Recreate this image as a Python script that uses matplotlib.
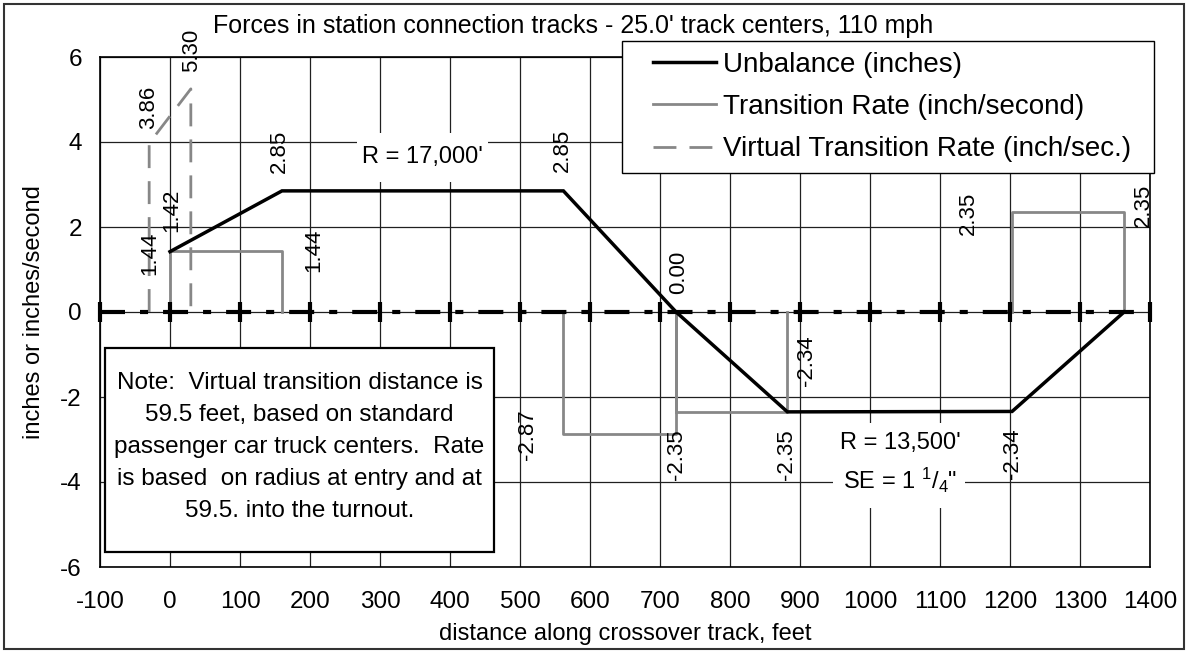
import matplotlib
matplotlib.use('Agg')
import matplotlib.pyplot as plt
from matplotlib.patches import Rectangle
from matplotlib.lines import Line2D
from matplotlib.legend_handler import HandlerLine2D

plt.rcParams['font.family'] = ['Liberation Sans', 'DejaVu Sans']
plt.rcParams['lines.scale_dashes'] = False
plt.rcParams['axes.unicode_minus'] = False
plt.rcParams['mathtext.fontset'] = 'custom'
plt.rcParams['mathtext.rm'] = 'Liberation Sans'
plt.rcParams['mathtext.it'] = 'Liberation Sans'

W, H = 1186, 653
def fx(px):
    return px / W
def fy(py):
    return 1 - py / H

# unbalance (inches)
unb_x = [0, 160, 562, 723, 882, 1203, 1363]
unb_y = [1.42, 2.85, 2.85, 0.00, -2.35, -2.34, 0.00]

# transition rate (inch/second), three blocks
rate1_x = [0, 0, 160, 160]
rate1_y = [0, 1.44, 1.44, 0]
rate2_x = [562, 562, 723, 723, 723, 882, 882]
rate2_y = [0, -2.87, -2.87, 0, -2.35, -2.35, 0]
rate3_x = [1203, 1203, 1363, 1363]
rate3_y = [0, 2.35, 2.35, 0]

# virtual transition rate (59.5 ft virtual distance)
virt_x = [-29.75, -29.75, 29.75, 29.75]
virt_y = [0, 3.97, 5.25, 0]

# zero reference line
zero_x = [-100, 0, 100, 200, 300, 400, 500, 600, 700, 800, 900, 1000, 1100, 1200, 1300, 1400]
zero_y = [0] * len(zero_x)

xticks = [-100, 0, 100, 200, 300, 400, 500, 600, 700, 800, 900, 1000, 1100, 1200, 1300, 1400]
yticks = [-6, -4, -2, 0, 2, 4, 6]

# data labels (text, and where they sit)
lab_text = ['5.30', '3.86', '1.42', '1.44', '2.85', '1.44', '2.85', '0.00', '-2.34',
            '-2.87', '-2.35', '-2.35', '2.35', '2.35', '-2.34']
lab_x = [31, -31, 3, -29, 156, 206, 561, 726, 909, 511, 724, 881, 1140, 1391, 1204]
lab_y = [6.16, 4.82, 2.40, 1.39, 3.79, 1.46, 3.81, 0.94, -1.15, -2.89, -3.36, -3.36, 2.33, 2.52, -3.34]

note = ("Note:  Virtual transition distance is\n59.5 feet, based on standard\n"
        "passenger car truck centers.  Rate\nis based  on radius at entry and at\n"
        "59.5. into the turnout.")

gray = '#878787'

fig = plt.figure(figsize=(W / 100, H / 100), dpi=100)
ax = fig.add_axes([fx(100), fy(567), fx(1150) - fx(100), fy(57) - fy(567)])

ax.plot(unb_x, unb_y, color='black', lw=2.5, zorder=4, solid_joinstyle='miter')
ax.plot(rate1_x, rate1_y, color=gray, lw=2.0, zorder=3)
ax.plot(rate2_x, rate2_y, color=gray, lw=2.0, zorder=3)
ax.plot(rate3_x, rate3_y, color=gray, lw=2.0, zorder=3)
ax.plot(virt_x, virt_y, color=gray, lw=2.0, linestyle=(0, (16.5, 9.4)),
        dash_capstyle='butt', zorder=3)
ax.plot(zero_x, zero_y, color='black', lw=3, linestyle=(0, (18, 10.8, 5.8, 10.8)),
        dash_capstyle='butt', marker='|', ms=14, mew=3, clip_on=False, zorder=3.5)

ax.set_xlim(-100, 1400)
ax.set_ylim(-6, 6)
ax.set_xticks(xticks)
ax.set_yticks(yticks)
ax.grid(True, color='#202020', lw=0.9)
ax.tick_params(length=0, labelsize=17.5)
ax.tick_params(axis='x', pad=17)
ax.tick_params(axis='y', pad=13)
for s in ax.spines.values():
    s.set_linewidth(1.2)

for t, x, y in zip(lab_text, lab_x, lab_y):
    ax.text(x, y, t, rotation=90, ha='center', va='center', fontsize=16, clip_on=False, zorder=5)

# white label boxes
ax.add_patch(Rectangle((fx(357), fy(182)), fx(488) - fx(357), fy(133) - fy(182),
                       transform=fig.transFigure, fc='white', ec='none', zorder=2.5, clip_on=False))
ax.text(fx(422), fy(157), "R = 17,000'", transform=fig.transFigure, ha='center', va='center',
        fontsize=17, zorder=5)
ax.add_patch(Rectangle((fx(833), fy(508)), fx(965) - fx(833), fy(423) - fy(508),
                       transform=fig.transFigure, fc='white', ec='none', zorder=2.5, clip_on=False))
ax.text(fx(900), fy(443), "R = 13,500'", transform=fig.transFigure, ha='center', va='center',
        fontsize=17, zorder=5)
ax.text(fx(900), fy(480), r'SE = 1 $^{1}$/$_{4}$"', transform=fig.transFigure, ha='center',
        va='center', fontsize=17, zorder=5)

# note box
ax.add_patch(Rectangle((fx(105), fy(552)), fx(494) - fx(105), fy(348) - fy(552),
                       transform=fig.transFigure, fc='white', ec='black', lw=1.6, zorder=2.5,
                       clip_on=False))
ax.text(fx(299.5), fy(447), note, transform=fig.transFigure, ha='center', va='center',
        fontsize=17.5, linespacing=1.58, zorder=5)

handles = [Line2D([], [], color='black', lw=2.5),
           Line2D([], [], color=gray, lw=2.0),
           Line2D([], [], color=gray, lw=2.0, linestyle=(0, (16.5, 9.4)), dash_capstyle='butt')]
labels = ['Unbalance (inches)', 'Transition Rate (inch/second)', 'Virtual Transition Rate (inch/sec.)']
leg = ax.legend(handles, labels, loc='upper left',
                bbox_to_anchor=(fx(622), fy(174), fx(1154) - fx(622), fy(41) - fy(174)),
                bbox_transform=fig.transFigure, mode='expand', fontsize=20,
                fancybox=False, edgecolor='black', framealpha=1, borderpad=0.4,
                labelspacing=0.58, handlelength=2.97, handletextpad=0.28, borderaxespad=0,
                handler_map={Line2D: HandlerLine2D(xpad=0.7)})
leg.get_frame().set_linewidth(1)
leg.set_zorder(10)

fig.text(fx(213), fy(33), "Forces in station connection tracks - 25.0' track centers, 110 mph",
         ha='left', va='baseline', fontsize=18)
fig.text(fx(625), fy(634), 'distance along crossover track, feet', ha='center', va='center',
         fontsize=17)
fig.text(fx(34), fy(312), 'inches or inches/second', rotation=90, ha='center', va='center',
         fontsize=17)

fig.add_artist(Rectangle((fx(4), fy(649)), fx(1184) - fx(4), fy(4) - fy(649),
                         transform=fig.transFigure, fill=False, ec='#333333', lw=1.5))

fig.savefig('out.png', dpi=100)
